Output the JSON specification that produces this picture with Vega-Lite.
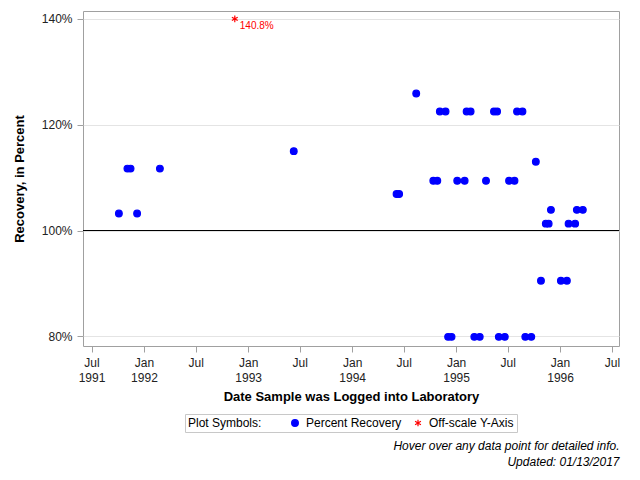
{
  "$schema": "https://vega.github.io/schema/vega-lite/v6.json",
  "autosize": "none",
  "width": 536,
  "height": 335,
  "padding": {"left": 83, "top": 11, "right": 21, "bottom": 134},
  "background": "white",
  "config": {
    "font": "Liberation Sans",
    "view": {"stroke": "#a0a0a0", "strokeWidth": 1},
    "axis": {
      "labelFont": "Liberation Sans",
      "titleFont": "Liberation Sans",
      "labelFontSize": 12,
      "titleFontSize": 13,
      "titleFontWeight": "bold",
      "labelColor": "#222",
      "titleColor": "#000",
      "tickColor": "#a0a0a0",
      "tickSize": 6,
      "domain": false,
      "labelOverlap": false,
      "labelFlush": false
    },
    "legend": {"labelFont": "Liberation Sans", "titleFont": "Liberation Sans"},
    "title": {"font": "Liberation Sans"}
  },
  "title": {
    "text": "Hover over any data point for detailed info.",
    "subtitle": "Updated: 01/13/2017",
    "orient": "bottom",
    "anchor": "end",
    "frame": "bounds",
    "fontStyle": "italic",
    "subtitleFontStyle": "italic",
    "fontWeight": "normal",
    "fontSize": 12,
    "subtitleFontSize": 12,
    "color": "#000",
    "subtitleColor": "#000",
    "subtitlePadding": 4,
    "offset": 8
  },
  "data": {
    "values": [
      {"date": "1991-10-05", "pct": 103.2, "shown": 103.2, "type": "Percent Recovery"},
      {"date": "1991-12-08", "pct": 103.2, "shown": 103.2, "type": "Percent Recovery"},
      {"date": "1991-11-04", "pct": 111.7, "shown": 111.7, "type": "Percent Recovery"},
      {"date": "1991-11-15", "pct": 111.7, "shown": 111.7, "type": "Percent Recovery"},
      {"date": "1992-02-26", "pct": 111.7, "shown": 111.7, "type": "Percent Recovery"},
      {"date": "1992-11-15", "pct": 140.8, "shown": 140, "type": "Off-scale Y-Axis", "label": "140.8%"},
      {"date": "1993-06-10", "pct": 115.0, "shown": 115.0, "type": "Percent Recovery"},
      {"date": "1994-06-06", "pct": 106.9, "shown": 106.9, "type": "Percent Recovery"},
      {"date": "1994-06-15", "pct": 106.9, "shown": 106.9, "type": "Percent Recovery"},
      {"date": "1994-08-14", "pct": 125.9, "shown": 125.9, "type": "Percent Recovery"},
      {"date": "1994-10-13", "pct": 109.4, "shown": 109.4, "type": "Percent Recovery"},
      {"date": "1994-10-27", "pct": 109.4, "shown": 109.4, "type": "Percent Recovery"},
      {"date": "1994-11-05", "pct": 122.5, "shown": 122.5, "type": "Percent Recovery"},
      {"date": "1994-11-25", "pct": 122.5, "shown": 122.5, "type": "Percent Recovery"},
      {"date": "1994-12-04", "pct": 79.9, "shown": 79.9, "type": "Percent Recovery"},
      {"date": "1994-12-16", "pct": 79.9, "shown": 79.9, "type": "Percent Recovery"},
      {"date": "1995-01-05", "pct": 109.4, "shown": 109.4, "type": "Percent Recovery"},
      {"date": "1995-01-31", "pct": 109.4, "shown": 109.4, "type": "Percent Recovery"},
      {"date": "1995-02-07", "pct": 122.5, "shown": 122.5, "type": "Percent Recovery"},
      {"date": "1995-02-21", "pct": 122.5, "shown": 122.5, "type": "Percent Recovery"},
      {"date": "1995-03-06", "pct": 79.9, "shown": 79.9, "type": "Percent Recovery"},
      {"date": "1995-03-25", "pct": 79.9, "shown": 79.9, "type": "Percent Recovery"},
      {"date": "1995-04-16", "pct": 109.4, "shown": 109.4, "type": "Percent Recovery"},
      {"date": "1995-05-14", "pct": 122.5, "shown": 122.5, "type": "Percent Recovery"},
      {"date": "1995-05-25", "pct": 122.5, "shown": 122.5, "type": "Percent Recovery"},
      {"date": "1995-05-31", "pct": 79.9, "shown": 79.9, "type": "Percent Recovery"},
      {"date": "1995-06-21", "pct": 79.9, "shown": 79.9, "type": "Percent Recovery"},
      {"date": "1995-07-06", "pct": 109.4, "shown": 109.4, "type": "Percent Recovery"},
      {"date": "1995-07-25", "pct": 109.4, "shown": 109.4, "type": "Percent Recovery"},
      {"date": "1995-08-03", "pct": 122.5, "shown": 122.5, "type": "Percent Recovery"},
      {"date": "1995-08-22", "pct": 122.5, "shown": 122.5, "type": "Percent Recovery"},
      {"date": "1995-09-01", "pct": 79.9, "shown": 79.9, "type": "Percent Recovery"},
      {"date": "1995-09-22", "pct": 79.9, "shown": 79.9, "type": "Percent Recovery"},
      {"date": "1995-10-08", "pct": 113.0, "shown": 113.0, "type": "Percent Recovery"},
      {"date": "1995-10-26", "pct": 90.5, "shown": 90.5, "type": "Percent Recovery"},
      {"date": "1995-11-12", "pct": 101.3, "shown": 101.3, "type": "Percent Recovery"},
      {"date": "1995-11-22", "pct": 101.3, "shown": 101.3, "type": "Percent Recovery"},
      {"date": "1995-11-30", "pct": 103.9, "shown": 103.9, "type": "Percent Recovery"},
      {"date": "1996-01-04", "pct": 90.5, "shown": 90.5, "type": "Percent Recovery"},
      {"date": "1996-01-25", "pct": 90.5, "shown": 90.5, "type": "Percent Recovery"},
      {"date": "1996-01-31", "pct": 101.3, "shown": 101.3, "type": "Percent Recovery"},
      {"date": "1996-02-23", "pct": 101.3, "shown": 101.3, "type": "Percent Recovery"},
      {"date": "1996-02-29", "pct": 103.9, "shown": 103.9, "type": "Percent Recovery"},
      {"date": "1996-03-21", "pct": 103.9, "shown": 103.9, "type": "Percent Recovery"}
    ]
  },
  "encoding": {
    "x": {
      "field": "date",
      "type": "temporal",
      "title": "Date Sample was Logged into Laboratory",
      "scale": {
        "type": "utc",
        "domain": [
          {"year": 1991, "month": 6, "date": 1, "utc": true},
          {"year": 1996, "month": 7, "date": 26, "utc": true}
        ],
        "nice": false
      },
      "axis": {
        "grid": false,
        "values": [
          {"year": 1991, "month": 7, "date": 1, "utc": true},
          {"year": 1992, "month": 1, "date": 1, "utc": true},
          {"year": 1992, "month": 7, "date": 1, "utc": true},
          {"year": 1993, "month": 1, "date": 1, "utc": true},
          {"year": 1993, "month": 7, "date": 1, "utc": true},
          {"year": 1994, "month": 1, "date": 1, "utc": true},
          {"year": 1994, "month": 7, "date": 1, "utc": true},
          {"year": 1995, "month": 1, "date": 1, "utc": true},
          {"year": 1995, "month": 7, "date": 1, "utc": true},
          {"year": 1996, "month": 1, "date": 1, "utc": true},
          {"year": 1996, "month": 7, "date": 1, "utc": true}
        ],
        "labelExpr": "(utcmonth(datum.value) == 0 || utcyear(datum.value) == 1991) ? [utcFormat(datum.value, '%b'), utcFormat(datum.value, '%Y')] : utcFormat(datum.value, '%b')",
        "labelLineHeight": 15.5,
        "labelPadding": 5,
        "titlePadding": 7
      }
    },
    "y": {
      "field": "shown",
      "type": "quantitative",
      "title": "Recovery, in Percent",
      "scale": {"domain": [78.17, 141.49], "nice": false, "zero": false},
      "axis": {
        "values": [80, 100, 120, 140],
        "labelExpr": "datum.value + '%'",
        "grid": true,
        "gridColor": "#e4e4e4",
        "labelPadding": 5,
        "titlePadding": 15
      }
    }
  },
  "layer": [
    {
      "mark": {"type": "rule", "color": "#000", "strokeWidth": 1},
      "encoding": {"y": {"datum": 100}, "x": {"value": 0}, "x2": {"value": 536}}
    },
    {
      "mark": {"type": "point", "filled": true, "opacity": 1, "strokeWidth": 1.2},
      "encoding": {
        "color": {
          "field": "type",
          "type": "nominal",
          "scale": {"domain": ["Percent Recovery", "Off-scale Y-Axis"], "range": ["#0000ff", "#ff0000"]},
          "legend": {
            "title": "Plot Symbols:",
            "orient": "none",
            "legendX": 102,
            "legendY": 403,
            "direction": "horizontal",
            "titleOrient": "left",
            "titleFontWeight": "normal",
            "titleFontSize": 12,
            "titleColor": "#000",
            "labelFontSize": 12,
            "labelColor": "#000",
            "strokeColor": "#c8c8c8",
            "padding": 3,
            "symbolSize": 45,
            "symbolStrokeWidth": 1.2,
            "columnPadding": 10,
            "titlePadding": 27,
            "labelOffset": 5
          }
        },
        "stroke": {
          "field": "type",
          "type": "nominal",
          "scale": {"domain": ["Percent Recovery", "Off-scale Y-Axis"], "range": ["#0000ff", "#ff0000"]}
        },
        "shape": {
          "field": "type",
          "type": "nominal",
          "scale": {"domain": ["Percent Recovery", "Off-scale Y-Axis"], "range": ["circle", "M0,-1L0,1M-0.87,-0.5L0.87,0.5M-0.87,0.5L0.87,-0.5"]}
        },
        "size": {"value": 45},
        "tooltip": [
          {"field": "date", "type": "temporal", "title": "Date", "format": "%m/%d/%Y", "scale": {"type": "utc"}},
          {"field": "pct", "type": "quantitative", "title": "Recovery (%)"}
        ]
      }
    },
    {
      "transform": [{"filter": "datum.type == 'Off-scale Y-Axis'"}],
      "mark": {"type": "text", "align": "left", "baseline": "middle", "dx": 5, "dy": 7, "fontSize": 10, "color": "#ff0000"},
      "encoding": {"text": {"field": "label"}}
    }
  ]
}
